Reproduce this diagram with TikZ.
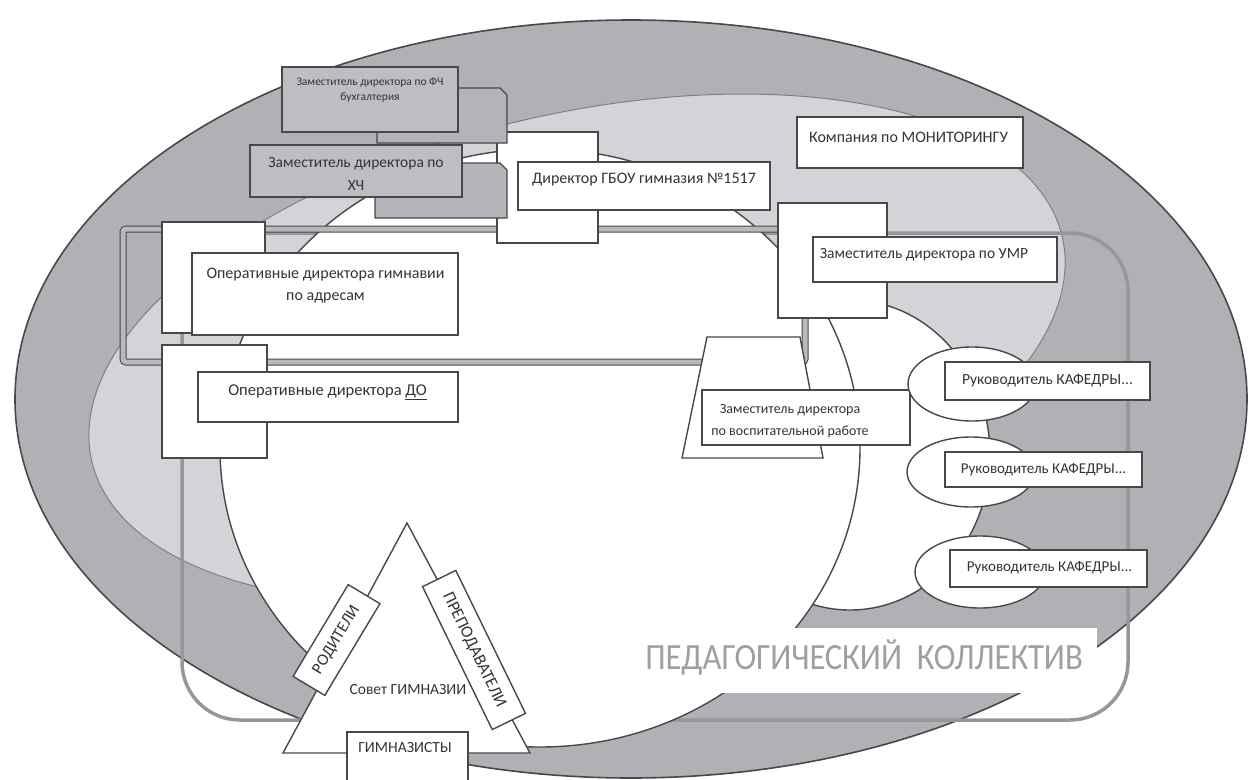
\documentclass[tikz,border=0pt]{standalone}
\usepackage{fontspec}
\setmainfont{Carlito}
\usetikzlibrary{positioning,shapes.geometric}

\definecolor{outergray}{RGB}{176,177,181}
\definecolor{lightfill}{RGB}{211,212,215}
\definecolor{framegray}{RGB}{184,185,188}
\definecolor{rectgray}{RGB}{150,151,154}
\definecolor{boxgray}{RGB}{189,190,193}
\definecolor{backgray}{RGB}{179,180,184}
\definecolor{edgegray}{RGB}{72,72,75}
\definecolor{txtgray}{RGB}{52,52,55}
\definecolor{titlegray}{RGB}{158,159,162}

\begin{document}
\begin{tikzpicture}[
x = 1pt, y = -1pt,
whitebox/.style={rectangle, draw=edgegray, fill=white, line width=1.4pt, inner sep=0pt, outer sep=0pt},
graybox/.style={whitebox, fill=boxgray},
grayback/.style={draw=edgegray, fill=backgray, line width=1.4pt},
kafedra/.style={ellipse, draw=edgegray, fill=white, line width=1.4pt, inner sep=0pt},
lbl/.style={inner sep=0pt, text=txtgray, align=center},
zone/.style={draw=edgegray, line width=1.4pt}]

\useasboundingbox (0,0) rectangle (1250,779);

% background zones
\draw[zone, fill=outergray, line width=1.6pt] (631,399) ellipse [x radius=616pt, y radius=379pt];
\draw[zone, draw=gray, fill=lightfill, line width=1pt, rotate around={13:(577,349)}] (577,349) ellipse [x radius=498pt, y radius=235pt];
\draw[rectgray, line width=3.5pt, rounded corners=58pt] (182,233) rectangle (1128,720);
\draw[zone, fill=white] (850,455) ellipse [x radius=140pt, y radius=155pt];
\draw[zone, fill=white] (540,448) ellipse [x radius=320pt, y radius=299pt];
\draw[edgegray, line width=1pt, double=framegray, double distance=5pt, rounded corners=3pt] (123,229) rectangle (805,362);

% collective
\node[fill=white, inner sep=0pt, minimum width=467pt, minimum height=65pt] (titlebox) at (863.5,660.5) {};
\node[inner sep=0pt, text=titlegray] (title) at (864,657) {\fontsize{37}{40}\selectfont\scalebox{0.885}[1]{ПЕДАГОГИЧЕСКИЙ\ \ КОЛЛЕКТИВ}};

% director and deputies
\node[whitebox, minimum width=101pt, minimum height=111pt] (dirback) at (547.5,187.5) {};

\draw[grayback] (377,88) -- (500,88) -- (507,95) -- (507,143) -- (377,143) -- cycle;
\node[graybox, minimum width=176pt, minimum height=65pt] (fch) at (370,99.5) {};
\node[lbl, font=\fontsize{11.5}{15}\selectfont] (fchlbl) at (370,90.5) {Заместитель директора по ФЧ\\бухгалтерия};

\draw[grayback] (375,163) -- (500,163) -- (507,170) -- (507,218) -- (375,218) -- cycle;
\node[graybox, minimum width=212pt, minimum height=52pt] (hch) at (356,171) {};
\node[lbl, font=\fontsize{15.5}{23}\selectfont] (hchlbl) at (356,173.5) {Заместитель директора по\\ХЧ};

\node[whitebox, minimum width=252pt, minimum height=48pt] (dir) at (644,186) {};
\node[lbl, font=\fontsize{16}{20}\selectfont] (dirlbl) at (644,180) {Директор ГБОУ гимназия №1517};

\node[whitebox, minimum width=226pt, minimum height=51pt] (mon) at (910,142.5) {};
\node[lbl, font=\fontsize{16}{20}\selectfont] (monlbl) at (908.5,137) {Компания по МОНИТОРИНГУ};

\node[whitebox, minimum width=109pt, minimum height=115pt] (umrback) at (832.5,260.5) {};
\node[whitebox, minimum width=244pt, minimum height=45pt] (umr) at (935,259.5) {};
\node[lbl, font=\fontsize{15.5}{20}\selectfont] (umrlbl) at (924,255) {Заместитель директора по УМР};

% operative directors
\node[whitebox, minimum width=103pt, minimum height=111pt] (adrback) at (213.5,277.5) {};
\node[whitebox, minimum width=266pt, minimum height=82pt] (adr) at (325,294) {};
\node[lbl, font=\fontsize{16}{22}\selectfont] (adrlbl) at (325.5,286) {Оперативные директора гимнавии\\по адресам};

\node[whitebox, minimum width=105pt, minimum height=113pt] (doback) at (214.5,401.5) {};
\node[whitebox, minimum width=260pt, minimum height=50pt] (do) at (328,397) {};
\node[lbl, font=\fontsize{16.5}{20}\selectfont] (dolbl) at (327.5,392) {Оперативные директора \underline{ДО}};

% upbringing deputy
\draw[zone, fill=white] (707,337) -- (800,337) -- (823,458) -- (682,458) -- cycle;
\node[whitebox, minimum width=208pt, minimum height=55pt] (vosp) at (806,417.5) {};
\node[lbl, font=\fontsize{14}{22}\selectfont] (vosplbl) at (790,421) {Заместитель директора\\по воспитательной работе};

% departments
\node[kafedra, minimum width=128pt, minimum height=74pt] (k1) at (972,384) {};
\node[whitebox, minimum width=205pt, minimum height=38pt] (k1box) at (1047.5,381) {};
\node[lbl, font=\fontsize{15.5}{20}\selectfont] (k1lbl) at (1047.5,381) {Руководитель КАФЕДРЫ...};

\node[kafedra, minimum width=128pt, minimum height=70pt] (k2) at (971,472) {};
\node[whitebox, minimum width=197pt, minimum height=35pt] (k2box) at (1043.5,469.5) {};
\node[lbl, font=\fontsize{15}{20}\selectfont] (k2lbl) at (1043.5,470) {Руководитель КАФЕДРЫ...};

\node[kafedra, minimum width=130pt, minimum height=72pt] (k3) at (980,572) {};
\node[whitebox, minimum width=197pt, minimum height=37pt] (k3box) at (1048.5,568.5) {};
\node[lbl, font=\fontsize{15}{20}\selectfont] (k3lbl) at (1049.5,568) {Руководитель КАФЕДРЫ...};

% gymnasium council
\coordinate (apex) at (407,523);
\coordinate (bl) at (283,753);
\coordinate (br) at (530,753);
\draw[zone, fill=white] (apex) -- (bl) -- (br) -- cycle;
\node[lbl, font=\fontsize{15.5}{20}\selectfont] (sovet) at (408,690) {Совет ГИМНАЗИИ};
\node[whitebox, minimum width=107pt, minimum height=37pt, rotate=59, text=txtgray, font=\fontsize{16.5}{20}\selectfont] (rod) at (336.5,640) {РОДИТЕЛИ};
\node[whitebox, minimum width=159pt, minimum height=37pt, rotate=-64, text=txtgray, font=\fontsize{17}{20}\selectfont] (prep) at (474,650) {ПРЕПОДАВАТЕЛИ};
\node[whitebox, minimum width=121pt, minimum height=63pt] (gim) at (407.5,763.5) {};
\node[lbl, font=\fontsize{15.5}{20}\selectfont] (gimlbl) at (405,748) {ГИМНАЗИСТЫ};
\end{tikzpicture}
\end{document}
